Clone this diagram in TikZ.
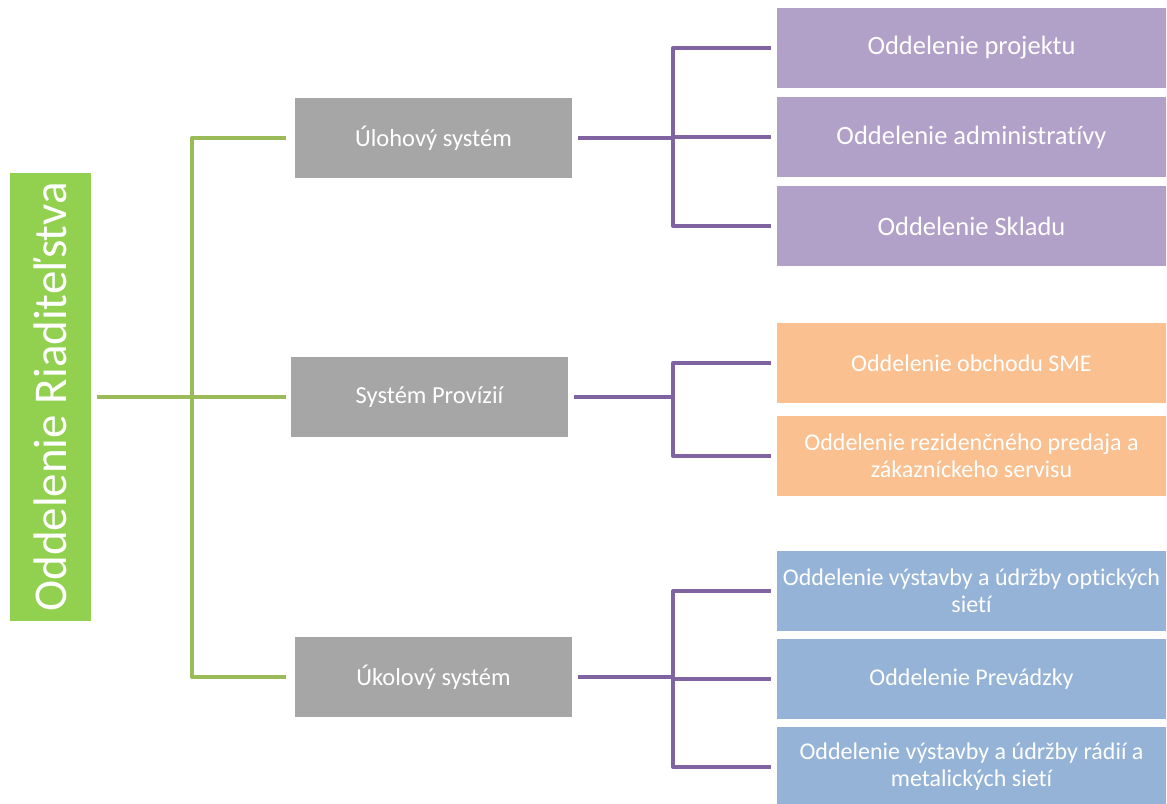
\documentclass[tikz,border=0pt]{standalone}
\usepackage{fontspec}
\setmainfont[Ligatures=NoCommon,RawFeature=-liga]{Carlito}
\definecolor{gbox}{HTML}{92D050}
\definecolor{gline}{HTML}{9BBB59}
\definecolor{grey}{HTML}{A6A6A6}
\definecolor{pline}{HTML}{8064A2}
\definecolor{pbox}{HTML}{B1A0C7}
\definecolor{obox}{HTML}{FAC090}
\definecolor{bbox}{HTML}{95B3D7}
\tikzset{
  box/.style={inner sep=2pt, text=white, align=center, anchor=center},
  rootbox/.style={box, fill=gbox, rotate=90, minimum width=448pt, minimum height=81pt, font=\fontsize{47}{50}\selectfont},
  midbox/.style={box, fill=grey, minimum width=277pt, minimum height=80pt, font=\fontsize{24.5}{28}\selectfont},
  leafbox/.style={box, minimum width=389pt, minimum height=80pt, font=\fontsize{24}{27}\selectfont},
  gconn/.style={draw=gline, line width=4pt, line join=round},
  pconn/.style={draw=pline, line width=4pt, line join=round},
}
\begin{document}
\begin{tikzpicture}[x=1pt,y=-1pt]
\useasboundingbox (0,0) rectangle (1167,803);
% root
\node[rootbox] (root) at (50,397) {Oddelenie Riaditeľstva};
% middle
\node[midbox] (t1) at (433.5,138) {Úlohový systém};
\node[midbox] (t2) at (429.5,397) {Systém Provízií};
\node[midbox] (t3) at (433.5,677) {Úkolový systém};
% leaves
\node[leafbox, fill=pbox, font=\fontsize{26.5}{29}\selectfont] (p1) at (971.5,48) {Oddelenie projektu};
\node[leafbox, fill=pbox, font=\fontsize{26.5}{29}\selectfont] (p2) at (971.5,137) {Oddelenie administratívy};
\node[leafbox, fill=pbox, font=\fontsize{26.5}{29}\selectfont] (p3) at (971.5,226) {Oddelenie Skladu};
\node[leafbox, fill=obox] (o1) at (971.5,363) {Oddelenie obchodu SME};
\node[leafbox, fill=obox] (o2) at (971.5,456) {Oddelenie rezidenčného predaja a\\zákazníckeho servisu};
\node[leafbox, fill=bbox] (b1) at (971.5,591) {Oddelenie výstavby a údržby optických\\sietí};
\node[leafbox, fill=bbox] (b2) at (971.5,679) {Oddelenie Prevádzky};
\node[leafbox, fill=bbox] (b3) at (971.5,767) {Oddelenie výstavby a údržby rádií a\\metalických sietí};
% junction columns
\coordinate (gx) at (192,0);
\coordinate (px) at (673,0);
% green connectors
\path[gconn] ([xshift=6pt]root.south) -- (root.south -| gx);
\path[gconn] ([xshift=-9pt]t1.west) -- (t1.west -| gx) -- (t3.west -| gx) -- ([xshift=-9pt]t3.west);
\path[gconn] (t2.west -| gx) -- ([xshift=-5pt]t2.west);
% purple connectors
\path[pconn] ([xshift=6pt]t1.east) -- (t1.east -| px);
\path[pconn] ([xshift=-6pt]p1.west) -- (p1.west -| px) -- (p3.west -| px) -- ([xshift=-6pt]p3.west);
\path[pconn] (p2.west -| px) -- ([xshift=-6pt]p2.west);
\path[pconn] ([xshift=6pt]t2.east) -- (t2.east -| px);
\path[pconn] ([xshift=-6pt]o1.west) -- (o1.west -| px) -- (o2.west -| px) -- ([xshift=-6pt]o2.west);
\path[pconn] ([xshift=6pt]t3.east) -- (t3.east -| px);
\path[pconn] ([xshift=-6pt]b1.west) -- (b1.west -| px) -- (b3.west -| px) -- ([xshift=-6pt]b3.west);
\path[pconn] (b2.west -| px) -- ([xshift=-6pt]b2.west);
\end{tikzpicture}
\end{document}
